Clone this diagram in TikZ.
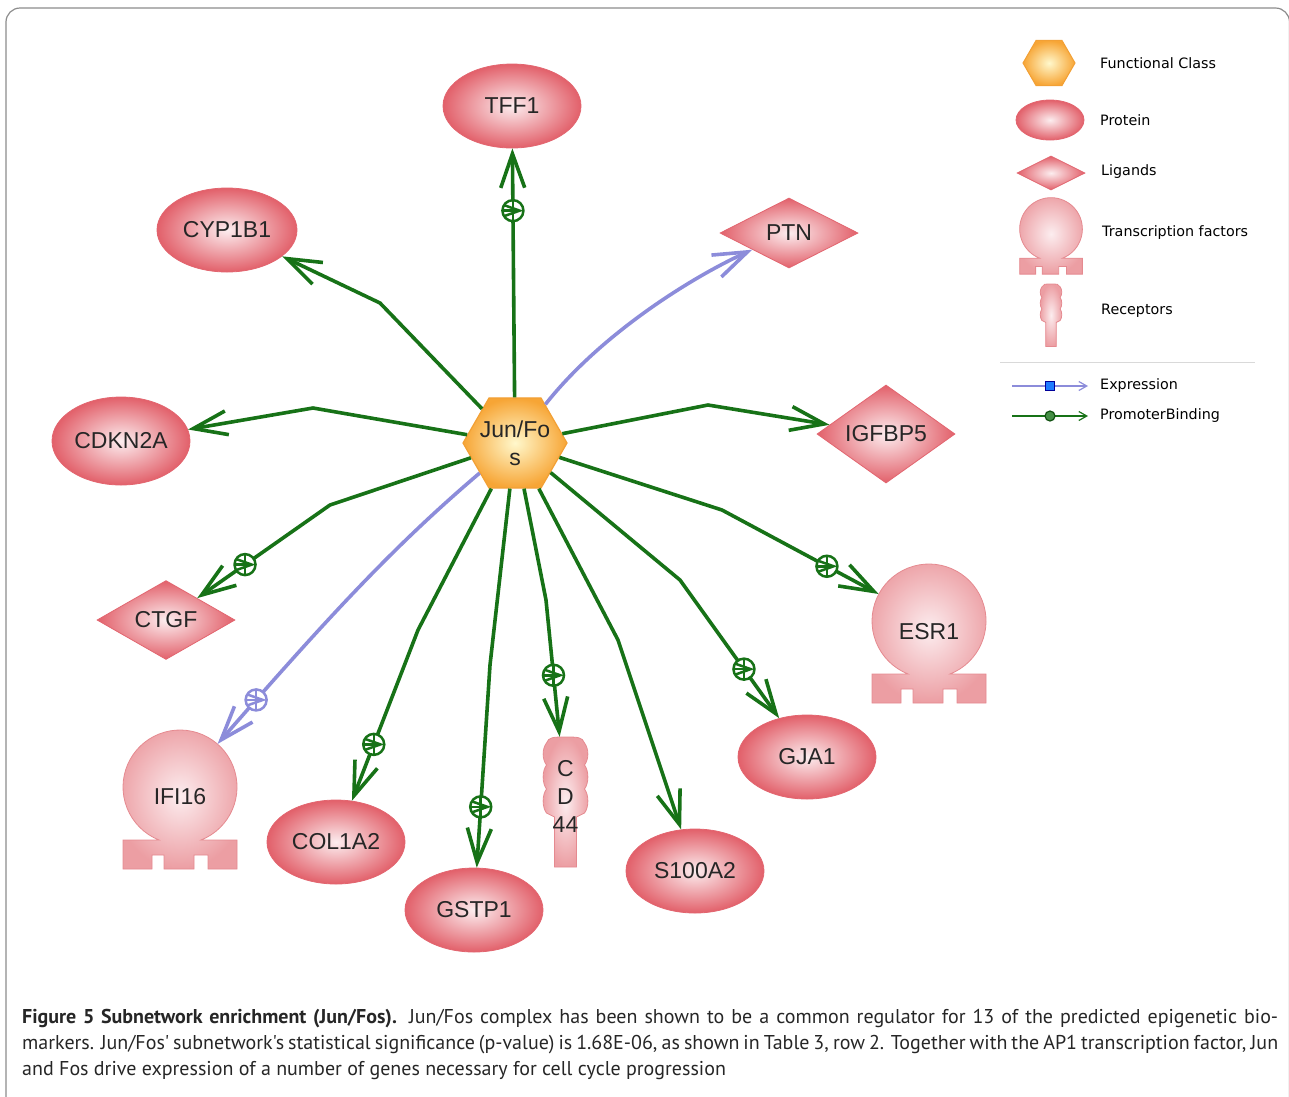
\documentclass[tikz,border=0pt]{standalone}
\usepackage{fontspec}
\setmainfont{Liberation Sans}
\newfontfamily\legfont{DejaVu Sans}
\newfontfamily\capfont{PT Sans}
\usetikzlibrary{shapes.geometric,arrows.meta}

\definecolor{pbgreen}{HTML}{177217}
\definecolor{exblue}{HTML}{8C8CDA}
\definecolor{pkin}{HTML}{FCEDEF}
\definecolor{pkout}{HTML}{E2606A}
\definecolor{pkline}{HTML}{E26670}
\definecolor{tfout}{HTML}{EC9EA3}
\definecolor{tfline}{HTML}{E58A90}
\definecolor{fcin}{HTML}{FFF8CC}
\definecolor{fcout}{HTML}{F7A535}
\definecolor{fcline}{HTML}{F2A035}
\definecolor{framegray}{HTML}{8C8C8C}
\definecolor{sqblue}{HTML}{1E7BFF}

\tikzset{
  prot/.style={ellipse, draw=pkline, line width=0.8, shading=radial, inner color=pkin,
    outer color=pkout, minimum width=138, minimum height=84, inner sep=0,
    text=black!85, font=\fontsize{23}{28}\selectfont},
  lig/.style={diamond, draw=pkline, line width=0.8, shading=radial, inner color=pkin,
    outer color=pkout, minimum width=138, minimum height=70, inner sep=0,
    text=black!85, font=\fontsize{23}{28}\selectfont},
  fclass/.style={regular polygon, regular polygon sides=6, draw=fcline, line width=1.2,
    shading=radial, inner color=fcin, outer color=fcout, minimum size=104, inner sep=0},
  tfac/.style={circle, minimum size=114, inner sep=0},
  lbl/.style={inner sep=0, align=center, text=black!85, font=\fontsize{23}{28}\selectfont},
  recep/.style={rectangle, minimum width=46, minimum height=118, inner sep=0,
    align=center, text=black!85, font=\fontsize{23}{28}\selectfont},
  pb/.style={draw=pbgreen, line width=3.6, -{Straight Barb[length=34pt,width=24pt]}},
  ex/.style={draw=exblue, line width=3.6, -{Straight Barb[length=34pt,width=24pt]}},
  plusmark/.style={circle, draw=#1, line width=2.5, fill=white, minimum size=21, inner sep=0,
    path picture={\draw[#1, line width=2.5]
      (path picture bounding box.north) -- (path picture bounding box.south)
      (path picture bounding box.west) -- (path picture bounding box.east);}},
  legtxt/.style={anchor=west, inner sep=0, font=\legfont\fontsize{14.3}{17}\selectfont},
  tfbody/.pic={
    \path[draw=tfline, line width=0.8, shading=radial, inner color=pkin, outer color=tfout]
      (21,53) arc[start angle=68.4, end angle=-248.4, radius=57] -- (-57,53) -- (-57,82)
      -- (-28,82) -- (-28,68) -- (-16,68) -- (-16,82) -- (14,82) -- (14,68) -- (28,68)
      -- (28,82) -- (57,82) -- (57,53) -- cycle;
  },
  recbody/.pic={
    \path[draw=tfline, line width=0.8, shading=radial, inner color=pkin, outer color=tfout]
      (-11,130) -- (-11,80) -- (-19,76)
      .. controls (-23.5,70) and (-23.5,58) .. (-19,52)
      .. controls (-23.5,46) and (-23.5,34) .. (-19,28)
      .. controls (-23.5,22) and (-23.5,12) .. (-19,6)
      .. controls (-17,0) and (-12,0) .. (0,0)
      .. controls (12,0) and (17,0) .. (19,6)
      .. controls (23.5,12) and (23.5,22) .. (19,28)
      .. controls (23.5,34) and (23.5,46) .. (19,52)
      .. controls (23.5,58) and (23.5,70) .. (19,76)
      -- (11,80) -- (11,130) -- cycle;
  }
}

\begin{document}
\begin{tikzpicture}[x=1pt,y=-1pt]
\useasboundingbox (0,0) rectangle (1289,1096);
\draw[framegray, line width=1.2, rounded corners=14] (6,1120) -- (6,8) -- (1289.5,8) -- (1289.5,1120);

% shapes drawn as pictures
\pic at (929,621) {tfbody};
\pic at (180,787) {tfbody};
\pic at (565.5,737) {recbody};

% nodes
\node[fclass] (jf) at (515,443) {};
\node[lbl] (jfl) at (515,443) {Jun/Fo\\s};
\node[prot] (tff) at (512,106) {TFF1};
\node[prot, minimum width=140] (cyp) at (227,230) {CYP1B1};
\node[prot, minimum height=88] (cdk) at (121,441) {CDKN2A};
\node[lig] (ptn) at (789,233) {PTN};
\node[lig, minimum height=72] (igf) at (886,434) {IGFBP5};
\node[lig] (ctg) at (166,620) {CTGF};
\node[tfac] (esr) at (929,621) {};
\node[lbl] (esrl) at (929,632) {ESR1};
\node[tfac] (ifi) at (180,787) {};
\node[lbl] (ifil) at (180,797) {IFI16};
\node[prot] (col) at (336,842) {COL1A2};
\node[prot] (gst) at (474,910) {GSTP1};
\node[recep] (cd) at (565.5,796) {C\\D\\44};
\node[prot] (sa) at (695,871) {S100A2};
\node[prot] (gja) at (807,757) {GJA1};

% connectors
\draw[pb] (jf) -- (tff) node[plusmark=pbgreen, pos=0.75] (m1) {};
\draw[pb] (jf) -- (380,303) -- (cyp);
\draw[pb] (jf) -- (313,408) -- (cdk);
\draw[pb] (jf) -- (708,405) -- (igf);
\draw[ex] (jf) .. controls (600,335) and (690,278) .. (ptn);
\draw[pb] (jf) -- (330,505) -- (ctg) node[plusmark=pbgreen, pos=0.64] (m2) {};
\draw[ex] (jf) .. controls (395,545) and (330,615) .. (ifi) node[plusmark=exblue, pos=0.88] (m3) {};
\draw[pb] (jf) -- (418,630) -- (col) node[plusmark=pbgreen, pos=0.67] (m4) {};
\draw[pb] (jf) -- (490,665) -- (gst) node[plusmark=pbgreen, pos=0.70] (m5) {};
\draw[pb] (jf) -- (546,600) -- (cd) node[plusmark=pbgreen, pos=0.55] (m6) {};
\draw[pb] (jf) -- (618,640) -- (sa);
\draw[pb] (jf) -- (680,580) -- (gja) node[plusmark=pbgreen, pos=0.645] (m7) {};
\draw[pb] (jf) -- (722,510) -- (esr) node[plusmark=pbgreen, pos=0.67] (m8) {};

% legend
\node[fclass, minimum size=52, line width=1] (lfc) at (1049,63) {};
\node[prot, minimum width=68, minimum height=40] (lpr) at (1050,120) {};
\node[lig, minimum width=68, minimum height=34] (llg) at (1051,173) {};
\pic[scale=0.55] at (1051,229) {tfbody};
\pic[scale=0.48] at (1051,284) {recbody};
\node[legtxt] (t1) at (1100,63) {Functional Class};
\node[legtxt] (t2) at (1100,120) {Protein};
\node[legtxt] (t3) at (1101,172) {Ligands};
\node[legtxt] (t4) at (1102,233) {Transcription factors};
\node[legtxt] (t5) at (1101,311) {Receptors};
\coordinate (s1) at (1000,362);
\coordinate (s2) at (1255,362);
\draw[black!15, line width=1] (s1) -- (s2);
\coordinate (e1) at (1012,386);
\coordinate (e2) at (1088,386);
\coordinate (p1) at (1012,416);
\coordinate (p2) at (1088,416);
\draw[exblue, line width=1.2, -{Straight Barb[length=8pt,width=9pt]}] (e1) -- (e2)
  node[pos=0.5, rectangle, draw=blue!60!black, fill=sqblue, minimum size=9, inner sep=0, line width=0.8] (lsq) {};
\draw[pbgreen, line width=1.2, -{Straight Barb[length=8pt,width=9pt]}] (p1) -- (p2)
  node[pos=0.5, circle, draw=pbgreen!70!black, fill=pbgreen!80, minimum size=10, inner sep=0] (ldot) {};
\node[legtxt] (t6) at (1100,386) {Expression};
\node[legtxt] (t7) at (1100,416) {PromoterBinding};

% caption
\node[anchor=north west, text width=1256, align=justify, inner sep=0,
  font=\capfont\fontsize{20}{26}\selectfont, text=black!85] (cap) at (22,1009)
  {\textbf{Figure 5 Subnetwork enrichment (Jun/Fos).} Jun/Fos complex has been shown to be a common regulator for 13 of the predicted epigenetic bio-\linebreak
  markers. Jun/Fos' subnetwork's statistical significance (p-value) is 1.68E-06, as shown in Table 3, row 2. Together with the AP1 transcription factor, Jun\linebreak
  and Fos drive expression of a number of genes necessary for cell cycle progression};
\end{tikzpicture}
\end{document}
